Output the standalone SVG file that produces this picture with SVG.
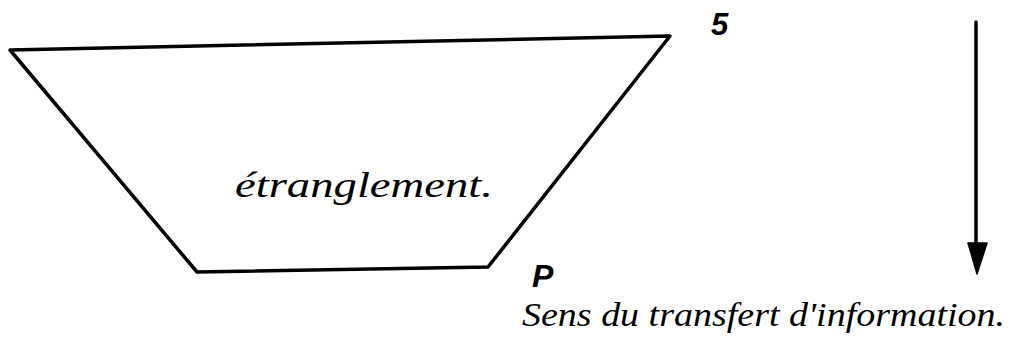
<svg xmlns="http://www.w3.org/2000/svg" width="1011" height="353" viewBox="0 0 1011 353">
<style>
.ln{fill:none;stroke:#000;stroke-width:3.5;stroke-linejoin:round;stroke-linecap:round}
.hw{font-family:"Liberation Serif",serif;font-style:italic;fill:#000}
.lbl{font-family:"Liberation Sans",sans-serif;font-weight:bold;font-style:italic;fill:#000}
.head{fill:#000;stroke:#000;stroke-width:1.5;stroke-linejoin:round}
</style>
<rect width="1011" height="353" fill="#fff"/>
<g id="trapeze">
<polygon class="ln" points="10,50 670,36 488,267 197,272"/>
<text class="hw" x="235" y="197" font-size="36" textLength="258" lengthAdjust="spacingAndGlyphs">étranglement.</text>
</g>
<g id="label-5">
<text class="lbl" x="711" y="35" font-size="31">5</text>
</g>
<g id="label-P">
<text class="lbl" x="532" y="287" font-size="32">P</text>
</g>
<g id="connectors">
<line class="ln" x1="976" y1="22" x2="976" y2="250"/>
<polygon class="head" points="968,243 987,243 977,274"/>
</g>
<g id="caption">
<text class="hw" x="522" y="326" font-size="34" textLength="483" lengthAdjust="spacingAndGlyphs">Sens du transfert d'information.</text>
</g>
</svg>
